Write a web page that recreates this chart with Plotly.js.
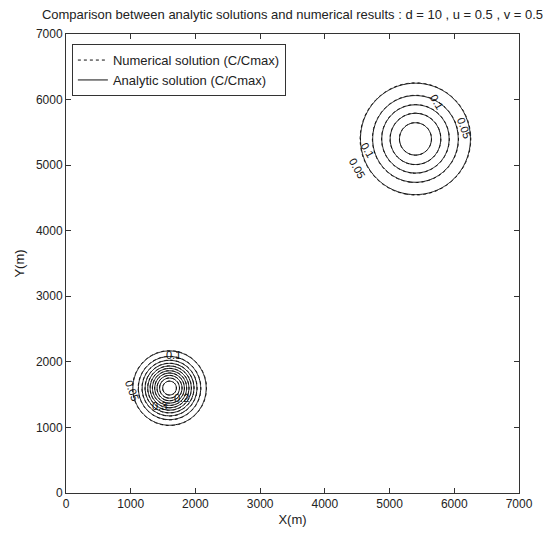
<!DOCTYPE html>
<html>
<head>
<meta charset="utf-8">
<script src="https://cdn.plot.ly/plotly-3.0.1.min.js"></script>
<style>html,body{margin:0;padding:0;background:#fff;}#chart{width:558px;height:540px;}</style>
</head>
<body>
<div id="chart"></div>
<script>
// ---- data ----
const puffCenterX = [1600, 5400];
const puffCenterY = [1600, 5400];
const analyticPeak = [0.60, 0.29];
const analyticSigma = [254, 453];
const numericalPeak = [0.60, 0.29];
const numericalSigma = [256, 456];
const levelStart = 0.05;
const levelEnd = 0.55;
const levelStep = 0.05;
const tickValues = [0, 1000, 2000, 3000, 4000, 5000, 6000, 7000];
const tickLabels = ['0', '1000', '2000', '3000', '4000', '5000', '6000', '7000'];
const labelTexts = ['0.1', '0.05', '0.1', '0.05', '0.1', '0.05', '0.3', '0.2'];
const labelX = [5730, 6150, 4660, 4500, 1660, 1020, 1440, 1790];
const labelY = [5960, 5560, 5230, 4960, 2110, 1570, 1330, 1450];
const labelAngle = [60, 70, 60, 60, 0, 70, 0, 0];
const seriesNames = ['Numerical solution (C/Cmax)', 'Analytic solution (C/Cmax)'];

// ---- grid ----
const gridStep = 20;
const gx = [], gy = [];
for (let v = 0; v <= 7000; v += gridStep) { gx.push(v); gy.push(v); }
function field(peaks, sigmas) {
  const z = [];
  for (let j = 0; j < gy.length; j++) {
    const row = new Array(gx.length);
    for (let i = 0; i < gx.length; i++) {
      let s = 0;
      for (let k = 0; k < puffCenterX.length; k++) {
        const dx = gx[i] - puffCenterX[k], dy = gy[j] - puffCenterY[k];
        s += peaks[k] * Math.exp(-(dx * dx + dy * dy) / (2 * sigmas[k] * sigmas[k]));
      }
      row[i] = s;
    }
    z.push(row);
  }
  return z;
}

const FONT = '"Liberation Sans", Arial, sans-serif';

const contourBase = {
  type: 'contour', x: gx, y: gy, showscale: false, showlegend: false,
  contours: { coloring: 'none', start: levelStart, end: levelEnd, size: levelStep },
  hoverinfo: 'skip'
};

const traces = [
  Object.assign({}, contourBase, {
    z: field(analyticPeak, analyticSigma),
    line: { color: '#111', width: 1, dash: 'solid', smoothing: 1 }
  }),
  Object.assign({}, contourBase, {
    z: field(numericalPeak, numericalSigma),
    line: { color: '#111', width: 1, dash: 'dot', smoothing: 1 }
  }),
  { type: 'scatter', mode: 'lines', x: [null], y: [null], name: seriesNames[0],
    line: { color: '#111', width: 1, dash: 'dot' } },
  { type: 'scatter', mode: 'lines', x: [null], y: [null], name: seriesNames[1],
    line: { color: '#111', width: 1, dash: 'solid' } }
];

const annotations = labelTexts.map((t, i) => ({
  x: labelX[i], y: labelY[i], xref: 'x', yref: 'y', text: t, showarrow: false,
  textangle: labelAngle[i], font: { family: FONT, size: 11, color: '#111' }
}));

const axisCommon = {
  range: [0, 7000], tickvals: tickValues, ticktext: tickLabels,
  ticks: 'inside', ticklen: 5, tickwidth: 1, tickcolor: '#333',
  showline: true, linecolor: '#333', linewidth: 1, mirror: 'ticks',
  showgrid: false, zeroline: false, fixedrange: true,
  tickfont: { family: FONT, size: 12, color: '#222' }
};

const layout = {
  width: 558, height: 540,
  margin: { l: 66, r: 39, t: 34, b: 47 },
  paper_bgcolor: '#fff', plot_bgcolor: '#fff',
  font: { family: FONT, color: '#222' },
  title: {
    text: 'Comparison between analytic solutions and numerical results : d = 10 , u = 0.5 , v = 0.5',
    font: { family: FONT, size: 13, color: '#222' },
    x: 0.5, xref: 'paper', xanchor: 'center', y: 0.973, yref: 'container', yanchor: 'middle'
  },
  xaxis: Object.assign({}, axisCommon, {
    title: { text: 'X(m)', font: { family: FONT, size: 13, color: '#222' }, standoff: 4 }
  }),
  yaxis: Object.assign({}, axisCommon, {
    title: { text: 'Y(m)', font: { family: FONT, size: 13, color: '#222' }, standoff: 8 }
  }),
  legend: {
    x: 0.013, y: 0.978, xanchor: 'left', yanchor: 'top',
    bgcolor: '#fff', bordercolor: '#333', borderwidth: 1,
    font: { family: FONT, size: 13, color: '#222' },
    tracegroupgap: 0
  },
  annotations: annotations
};

Plotly.newPlot('chart', traces, layout, { displayModeBar: false, staticPlot: true });
</script>
</body>
</html>
